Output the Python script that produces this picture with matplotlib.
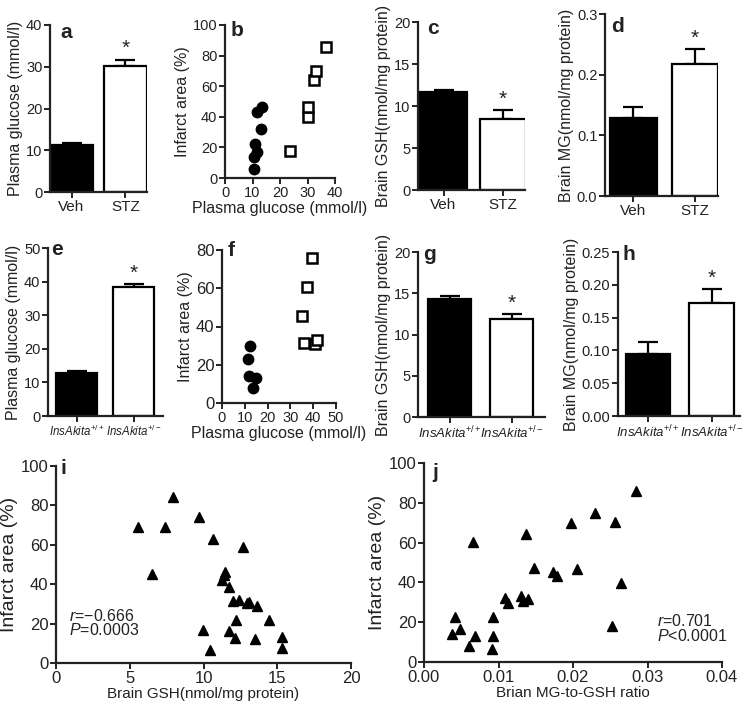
import numpy as np
import matplotlib.pyplot as plt

plt.rcParams['font.family'] = ['Liberation Sans', 'DejaVu Sans']
plt.rcParams['mathtext.fontset'] = 'custom'
plt.rcParams['mathtext.rm'] = 'Liberation Sans'
plt.rcParams['mathtext.it'] = 'Liberation Sans:italic'
plt.rcParams['text.color'] = '#222222'
plt.rcParams['axes.labelcolor'] = '#222222'
plt.rcParams['xtick.color'] = '#222222'
plt.rcParams['ytick.color'] = '#222222'

# ---- data ----
stz_groups = ['Veh', 'STZ']
akita_groups = [r'InsAkita$^{+/+}$', r'InsAkita$^{+/-}$']

# a: plasma glucose, STZ model
glc_stz_mean = [11.3, 30.2]
glc_stz_err = [0.4, 1.5]
# c: brain GSH, STZ model
gsh_stz_mean = [11.7, 8.5]
gsh_stz_err = [0.15, 1.0]
# d: brain MG, STZ model
mg_stz_mean = [0.128, 0.217]
mg_stz_err = [0.018, 0.025]
# e: plasma glucose, Akita
glc_akita_mean = [12.7, 38.4]
glc_akita_err = [0.6, 0.9]
# g: brain GSH, Akita
gsh_akita_mean = [14.3, 11.9]
gsh_akita_err = [0.35, 0.6]
# h: brain MG, Akita
mg_akita_mean = [0.095, 0.173]
mg_akita_err = [0.018, 0.020]

# b: infarct vs glucose (STZ)
b_veh_glc = [10.5, 10.5, 11.8, 11.0, 13.0, 11.8, 13.6]
b_veh_inf = [6.1, 13.5, 16.7, 22.4, 32.0, 43.0, 46.7]
b_stz_glc = [23.6, 30.1, 30.1, 32.4, 33.1, 36.7]
b_stz_inf = [17.4, 39.8, 46.3, 64.0, 70.2, 85.4]

# f: infarct vs glucose (Akita)
f_wt_glc = [12.4, 11.4, 11.7, 15.0, 13.6]
f_wt_inf = [29.7, 22.9, 14.0, 13.1, 8.0]
f_ak_glc = [39.4, 37.5, 35.3, 36.0, 40.8, 41.8]
f_ak_inf = [75.6, 60.4, 45.4, 31.6, 30.7, 33.2]

# i: infarct vs brain GSH
i_gsh = [5.58, 7.91, 7.41, 6.49, 9.72, 10.67, 12.7, 11.48, 11.39, 11.28,
         11.75, 11.98, 12.38, 12.93, 13.1, 13.6, 14.42, 12.23, 9.94, 11.75,
         12.11, 13.5, 15.3, 15.3, 10.46]
i_inf = [69.2, 84.4, 69.2, 45.2, 73.9, 62.9, 59.0, 46.4, 44.7, 42.3,
         38.7, 31.5, 32.0, 30.3, 30.8, 28.8, 21.8, 21.8, 16.8, 16.1,
         12.9, 12.4, 13.4, 7.6, 6.4]

# j: infarct vs MG-to-GSH ratio
j_ratio = [0.0285, 0.0229, 0.0256, 0.0197, 0.0066, 0.0137, 0.0148, 0.0205,
           0.0173, 0.0179, 0.0265, 0.0109, 0.0113, 0.0130, 0.0133, 0.0140,
           0.0042, 0.0092, 0.0037, 0.0048, 0.0069, 0.0092, 0.0061, 0.0091,
           0.0252]
j_inf = [85.7, 75.1, 70.3, 70.1, 60.2, 64.4, 47.1, 46.6, 45.3, 43.2,
         39.8, 32.2, 29.6, 33.4, 30.8, 31.6, 22.8, 22.8, 14.3, 16.8,
         12.9, 12.9, 8.2, 6.5, 18.1]

W, H = 750, 707
fig = plt.figure(figsize=(W / 100, H / 100), dpi=100)


def add_ax(left, top, right, bottom):
    ax = fig.add_axes([left / W, 1 - bottom / H, (right - left) / W, (bottom - top) / H])
    ax.spines['top'].set_visible(False)
    ax.spines['right'].set_visible(False)
    for s in ['left', 'bottom']:
        ax.spines[s].set_linewidth(1.6)
        ax.spines[s].set_color('#222222')
    ax.tick_params(width=1.4, length=4, labelsize=10.5, pad=1.5)
    return ax


def bar_panel(box, means, errs, labels, ylim, yticks, yfmt, ylabel, xlim, width, tlsize=11, italic=False):
    ax = add_ax(*box)
    x = np.arange(len(means))
    ax.bar(x, means, width=width, color=['black', 'white'], edgecolor='black', linewidth=1.6, zorder=2)
    ax.errorbar(x, means, yerr=[[0, 0], errs], fmt='none', ecolor='black', elinewidth=1.6,
                capsize=7, capthick=1.6, zorder=1)
    ax.annotate('*', (x[1], means[1] + errs[1]), xytext=(0, 1), textcoords='offset points',
                ha='center', va='bottom', fontsize=15)
    ax.set_xlim(*xlim)
    ax.set_ylim(*ylim)
    ax.set_yticks(yticks)
    ax.set_yticklabels([yfmt.format(t) for t in yticks])
    ax.set_xticks(x)
    ax.set_xticklabels(labels, fontsize=tlsize, style='italic' if italic else 'normal')
    ax.set_ylabel(ylabel, fontsize=11.5, labelpad=2)
    return ax


def scatter_panel(box, xlim, xticks, xfmt, ylim, yticks, xlabel, ylabel, tsize=10.5, lsize=11.5):
    ax = add_ax(*box)
    ax.set_xlim(*xlim)
    ax.set_ylim(*ylim)
    ax.set_xticks(xticks)
    ax.set_xticklabels([xfmt.format(t) for t in xticks])
    ax.set_yticks(yticks)
    ax.tick_params(labelsize=tsize)
    ax.set_xlabel(xlabel, fontsize=lsize, labelpad=1)
    ax.set_ylabel(ylabel, fontsize=lsize, labelpad=2)
    return ax


# row 1
bar_panel((50, 25, 147, 192), glc_stz_mean, glc_stz_err, stz_groups, (0, 40), [0, 10, 20, 30, 40],
          '{:g}', 'Plasma glucose (mmol/l)', (-0.4, 1.4), 0.8)

ax = scatter_panel((225, 25, 335, 178), (0, 40), [0, 10, 20, 30, 40], '{:g}', (0, 100),
                   [0, 20, 40, 60, 80, 100], 'Plasma glucose (mmol/l)', 'Infarct area (%)')
ax.plot(b_veh_glc, b_veh_inf, 'o', color='black', ms=7.5, clip_on=False)
ax.plot(b_stz_glc, b_stz_inf, 's', mfc='white', mec='black', mew=1.8, ms=6.5, clip_on=False)

bar_panel((418, 22, 525, 190), gsh_stz_mean, gsh_stz_err, stz_groups, (0, 20), [0, 5, 10, 15, 20],
          '{:g}', 'Brain GSH(nmol/mg protein)', (-0.43, 1.37), 0.78)

bar_panel((605, 14, 718, 196), mg_stz_mean, mg_stz_err, stz_groups, (0, 0.3), [0, 0.1, 0.2, 0.3],
          '{:.1f}', 'Brain MG(nmol/mg protein)', (-0.46, 1.37), 0.75)

# row 2
bar_panel((48, 248, 163, 416), glc_akita_mean, glc_akita_err, akita_groups, (0, 50),
          [0, 10, 20, 30, 40, 50], '{:g}', 'Plasma glucose (mmol/l)', (-0.51, 1.52), 0.72,
          tlsize=8.3, italic=True)

ax = scatter_panel((222, 250, 336, 403), (0, 50), [0, 10, 20, 30, 40, 50], '{:g}', (0, 80),
                   [0, 20, 40, 60, 80], 'Plasma glucose (mmol/l)', 'Infarct area (%)')
ax.tick_params(axis='y', labelsize=12)
ax.plot(f_wt_glc, f_wt_inf, 'o', color='black', ms=7.5, clip_on=False)
ax.plot(f_ak_glc, f_ak_inf, 's', mfc='white', mec='black', mew=1.8, ms=6.5, clip_on=False)

bar_panel((418, 252, 545, 417), gsh_akita_mean, gsh_akita_err, akita_groups, (0, 20),
          [0, 5, 10, 15, 20], '{:g}', 'Brain GSH(nmol/mg protein)', (-0.51, 1.54), 0.7,
          tlsize=9.5, italic=True)

bar_panel((618, 252, 740, 416), mg_akita_mean, mg_akita_err, akita_groups, (0, 0.25),
          [0, 0.05, 0.10, 0.15, 0.20, 0.25], '{:.2f}', 'Brain MG(nmol/mg protein)',
          (-0.48, 1.45), 0.7, tlsize=9.5, italic=True)

# row 3
ax = scatter_panel((56, 466, 351, 663), (0, 20), [0, 5, 10, 15, 20], '{:g}', (0, 100),
                   [0, 20, 40, 60, 80, 100], 'Brain GSH(nmol/mg protein)', 'Infarct area (%)',
                   tsize=12, lsize=11)
ax.yaxis.label.set_size(14)
ax.plot(i_gsh, i_inf, '^', color='black', ms=7.5, clip_on=False)
ax.text(0.85, 24, r'$\it{r}$=−0.666', fontsize=11.5, va='center')
ax.text(0.85, 16.5, r'$\it{P}$=0.0003', fontsize=11.5, va='center')

ax = scatter_panel((424, 463, 722, 662), (0, 0.04), [0, 0.01, 0.02, 0.03, 0.04], '{:.2f}', (0, 100),
                   [0, 20, 40, 60, 80, 100], 'Brian MG-to-GSH ratio', 'Infarct area (%)',
                   tsize=12, lsize=11)
ax.yaxis.label.set_size(14)
ax.plot(j_ratio, j_inf, '^', color='black', ms=7.5, clip_on=False)
ax.text(0.0313, 20.5, r'$\it{r}$=0.701', fontsize=11.5, va='center')
ax.text(0.0313, 13, r'$\it{P}$<0.0001', fontsize=11.5, va='center')

# panel letters
letters = ['a', 'b', 'c', 'd', 'e', 'f', 'g', 'h', 'i', 'j']
letter_x = [60, 231, 427, 611, 51, 228, 423, 622, 61, 432]
letter_y = [33, 30, 29, 26, 249, 251, 254, 254, 469, 473]
for t, lx, ly in zip(letters, letter_x, letter_y):
    fig.text(lx / W, 1 - ly / H, t, fontsize=15, fontweight='bold', va='center', ha='left')

plt.savefig('out.png', dpi=100)
plt.close(fig)
